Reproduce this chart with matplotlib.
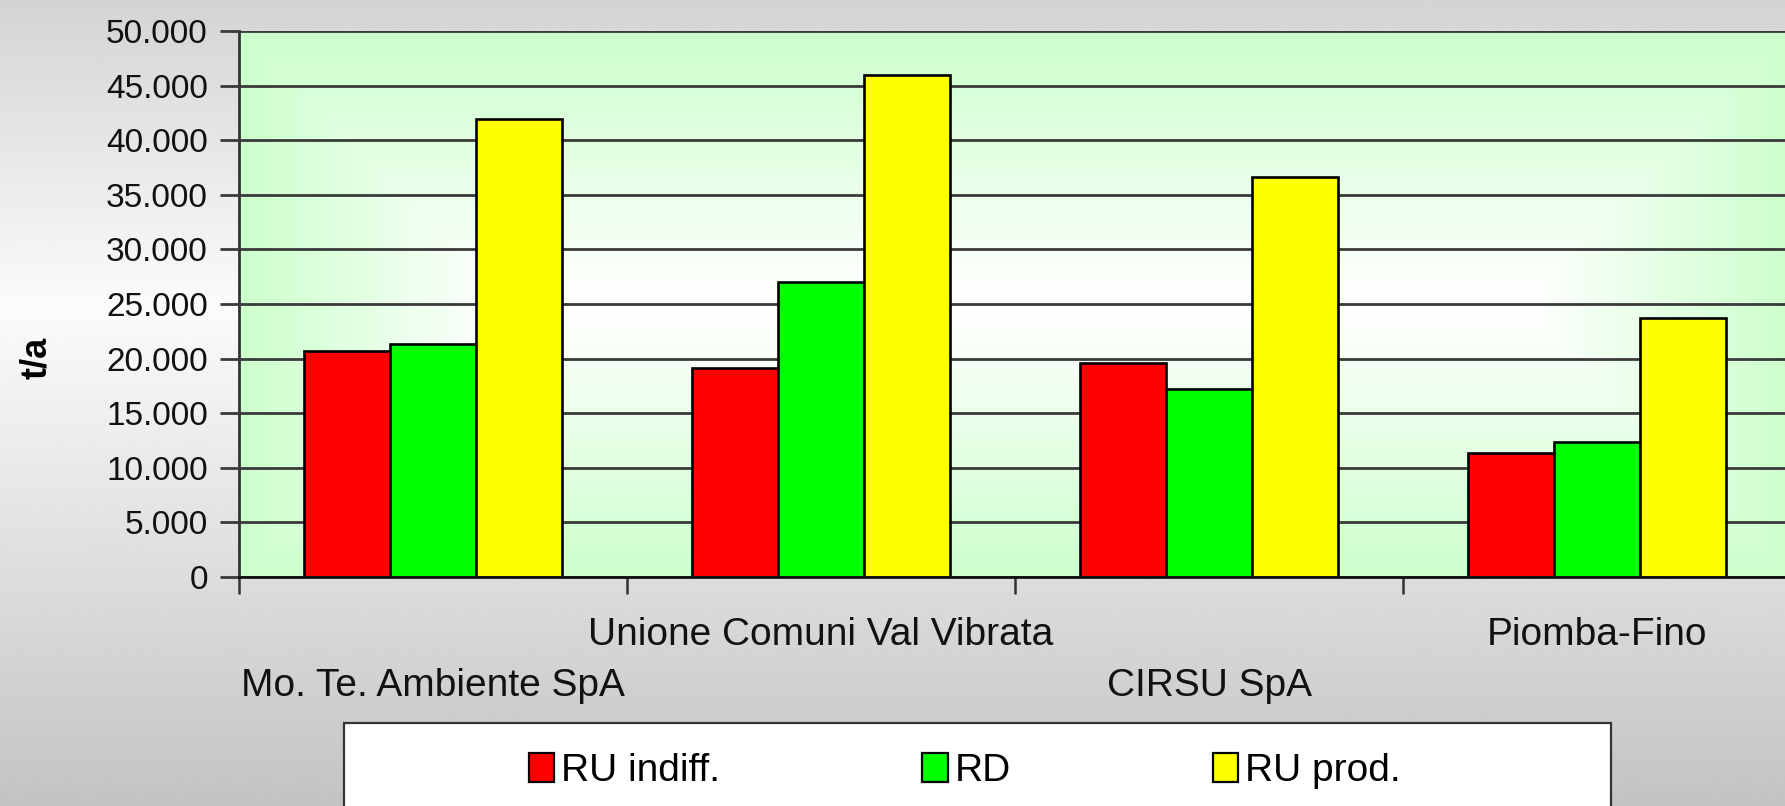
import numpy as np
import matplotlib as mpl
import matplotlib.pyplot as plt
from matplotlib.patches import Patch, Rectangle
from matplotlib.ticker import FuncFormatter

# data (t/a):
categories = ['Mo. Te. Ambiente SpA', 'Unione Comuni Val Vibrata', 'CIRSU SpA', 'Piomba-Fino']
series_names = ['RU indiff.', 'RD', 'RU prod.']
ru_indiff = [20700, 19100, 19600, 11400]
rd = [21300, 27000, 17200, 12400]
ru_prod = [41900, 46000, 36600, 23700]
yticks = [0, 5000, 10000, 15000, 20000, 25000, 30000, 35000, 40000, 45000, 50000]

colors = ['#FF0000', '#00FF00', '#FFFF00']

plt.rcParams['font.family'] = ['Liberation Sans', 'DejaVu Sans']

W, H = 1785, 806
fig = plt.figure(figsize=(W/100, H/100), dpi=100)

# grey vertical gradient of the chart background:
bg = fig.add_axes([0, 0, 1, 1], zorder=-1)
yy = np.linspace(0, 1, 400)
top, mid, bot = 0.83, 0.985, 0.765
shade = np.where(yy < 0.38, top + (mid - top)*yy/0.38, mid + (bot - mid)*(yy - 0.38)/0.62)
bg.imshow(np.repeat(shade[:, None], 2, axis=1), cmap='gray', vmin=0, vmax=1,
          aspect='auto', extent=(0, 1, 0, 1), interpolation='bilinear')
bg.set_axis_off()

# plot area (right edge runs slightly past the figure):
x0, x1, ytop, ybot = 239, 1791, 31, 577
ax = fig.add_axes([x0/W, 1 - ybot/H, (x1 - x0)/W, (ybot - ytop)/H])

# green frame gradient, white in the middle:
pw, ph = x1 - x0, ybot - ytop
gx, gy = np.meshgrid(np.arange(pw) + 0.5, np.arange(ph) + 0.5)
d = np.minimum(np.minimum(gx, pw - gx), np.minimum(gy, ph - gy))
t = np.clip(1 - d/265.0, 0, 1)[..., None]
green = np.array([0.80, 1.0, 0.80])
img = (1 - t)*np.ones(3) + t*green
ax.imshow(img, extent=(0, 1, 0, 1), transform=ax.transAxes, aspect='auto', zorder=0)

x = np.arange(len(categories)) + 0.5
bw = 1/4.5
for k, (vals, c, name) in enumerate(zip([ru_indiff, rd, ru_prod], colors, series_names)):
    ax.bar(x + (k - 1)*bw, vals, bw, color=c, edgecolor='black', linewidth=1.9,
           label=name, zorder=3)

ax.set_xlim(0, len(categories))
ax.set_ylim(0, 50000)
ax.set_yticks(yticks)
ax.yaxis.set_major_formatter(FuncFormatter(lambda v, p: f'{int(v):,}'.replace(',', '.')))
ax.grid(axis='y', color='#3a3a3a', linewidth=2.0, zorder=1)
ax.set_axisbelow(False)
ax.tick_params(axis='y', direction='out', length=13.5, width=2.0, color='#3a3a3a',
               labelsize=24, pad=9, labelcolor='#111111')

# category ticks at boundaries, labels staggered in two rows:
ax.set_xticks(np.arange(len(categories)))
ax.tick_params(axis='x', which='major', direction='out', length=12, width=1.8,
               color='#333333', labelbottom=False)
ax.set_xticks(x, minor=True)
labels = [('\n' + c) if i % 2 == 0 else (c + '\n') for i, c in enumerate(categories)]
ax.set_xticklabels(labels, minor=True)
ax.tick_params(axis='x', which='minor', length=0, pad=29, labelsize=28, labelcolor='#111111')
for tl in ax.get_xticklabels(minor=True):
    tl.set_linespacing(1.52)

for s in ['top', 'right']:
    ax.spines[s].set_visible(False)
ax.spines['left'].set_color('#333333')
ax.spines['left'].set_linewidth(2.0)
ax.spines['bottom'].set_color('#111111')
ax.spines['bottom'].set_linewidth(2.0)
ax.spines['bottom'].set_zorder(4)

fig.text(36/W, 1 - 358/H, 't/a', rotation=90, ha='center', va='center',
         fontsize=26, fontweight='bold')

# legend box:
fig.patches.append(Rectangle((344/W, -0.05), (1611 - 344)/W, (H - 723)/H + 0.05,
                             transform=fig.transFigure, facecolor='white',
                             edgecolor='#333333', linewidth=1.6, zorder=1))
handles = [Patch(facecolor=c, edgecolor='black', linewidth=1.6) for c in colors]
fig.legend(handles, series_names, loc='center', bbox_to_anchor=(965/W, 1 - 771/H),
           ncol=3, frameon=False, fontsize=28, handlelength=0.65, handleheight=0.78,
           handletextpad=0.18, columnspacing=5.2)

fig.savefig('out.png', dpi=100)
